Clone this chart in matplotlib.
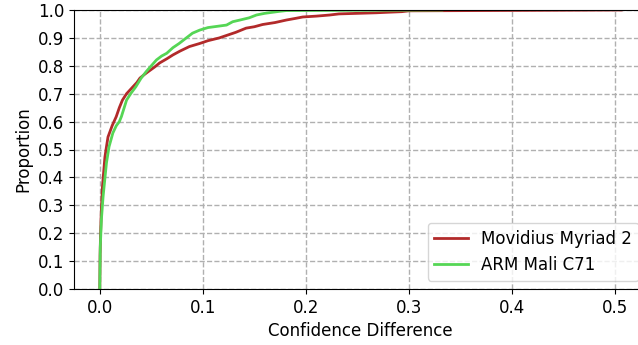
import numpy as np
import matplotlib
matplotlib.use('Agg')
import matplotlib.pyplot as plt

# ECDF breakpoints (confidence difference, proportion)
x_myriad = [0.0, 0.0003, 0.0008, 0.0015, 0.0026, 0.0038, 0.005, 0.0065, 0.008, 0.010, 0.012,
            0.016, 0.019, 0.022, 0.026, 0.031, 0.036, 0.039, 0.043, 0.047, 0.053,
            0.058, 0.065, 0.071, 0.078, 0.087, 0.097, 0.105, 0.116, 0.124, 0.132,
            0.142, 0.150, 0.158, 0.170, 0.181, 0.190, 0.197, 0.210, 0.223, 0.232,
            0.250, 0.268, 0.280, 0.293, 0.300, 0.506]
y_myriad = [0.0, 0.12, 0.2, 0.28, 0.366, 0.42, 0.473, 0.51, 0.545, 0.565, 0.585,
            0.618, 0.65, 0.677, 0.70, 0.72, 0.74, 0.756, 0.768, 0.779, 0.795,
            0.81, 0.825, 0.839, 0.853, 0.869, 0.88, 0.89, 0.9, 0.91, 0.92,
            0.935, 0.94, 0.948, 0.955, 0.964, 0.97, 0.975, 0.978, 0.982, 0.986,
            0.988, 0.99, 0.992, 0.994, 0.997, 1.0]

x_mali = [0.0, 0.0005, 0.0016, 0.0032, 0.0048, 0.0065, 0.009, 0.0127, 0.016, 0.019, 0.021,
          0.026, 0.030, 0.035, 0.040, 0.045, 0.050, 0.055, 0.060, 0.065, 0.071,
          0.077, 0.084, 0.090, 0.097, 0.105, 0.115, 0.123, 0.129, 0.136, 0.145,
          0.152, 0.160, 0.168, 0.174, 0.181, 0.250, 0.332]
y_mali = [0.0, 0.15, 0.25, 0.33, 0.39, 0.452, 0.51, 0.559, 0.585, 0.60, 0.618,
          0.677, 0.70, 0.725, 0.755, 0.779, 0.80, 0.821, 0.835, 0.845, 0.865,
          0.88, 0.90, 0.917, 0.928, 0.937, 0.942, 0.946, 0.958, 0.964, 0.972,
          0.982, 0.988, 0.992, 0.995, 0.998, 0.999, 1.0]

fig = plt.figure(figsize=(6.38, 3.45), dpi=100)
ax = fig.add_axes([74/638, 56/345, (647-74)/638, 279/345])

ax.plot(x_myriad, y_myriad, color='#b22a2a', lw=2, label='Movidius Myriad 2')
ax.plot(x_mali, y_mali, color='#55d655', lw=2, label='ARM Mali C71')

ax.set_xlim(-0.025, 0.531)
ax.set_ylim(0, 1)
ax.set_xticks([0.0, 0.1, 0.2, 0.3, 0.4, 0.5])
ax.set_yticks(np.arange(0, 1.01, 0.1))
ax.set_yticklabels(['%.1f' % v for v in np.arange(0, 1.01, 0.1)])
ax.tick_params(labelsize=12)
ax.grid(True, linestyle='--', color='#b0b0b0', lw=1)
ax.set_axisbelow(True)
ax.set_xlabel('Confidence Difference', fontsize=12)
ax.set_ylabel('Proportion', fontsize=12)
ax.legend(loc='lower right', fontsize=12)

plt.savefig('out.png', dpi=100)
